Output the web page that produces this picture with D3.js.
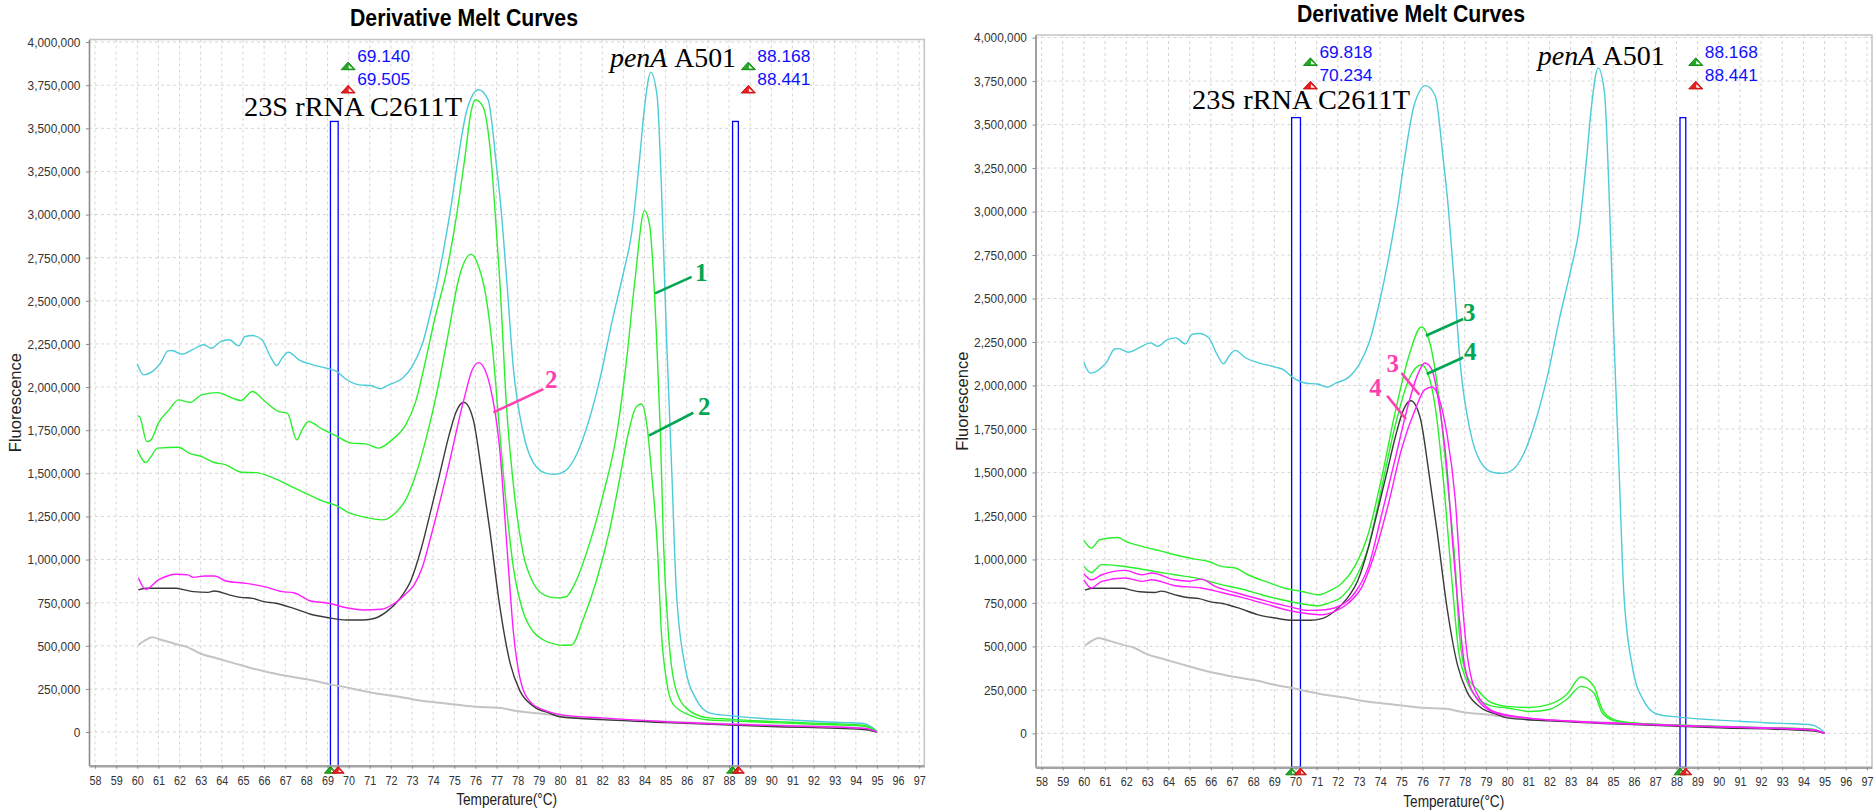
<!DOCTYPE html>
<html>
<head>
<meta charset="utf-8">
<script src="https://cdn.jsdelivr.net/npm/d3@7"></script>
<style>
  body { margin: 0; background: #fff; }
  svg { display: block; }
</style>
</head>
<body>
<script>
var tempTicks = d3.range(58, 98);
var fluorTicks = d3.range(0, 4000001, 250000);

// shared traces (same wells in both runs)
var cyanTrace = [[60.0,2134000],[60.3,2071000],[60.9,2110000],[61.1,2139000],[61.45,2210000],[61.65,2212000],[62.1,2191000],[62.6,2216000],[63.15,2245000],[63.5,2225000],[63.95,2264000],[64.35,2274000],[64.8,2239000],[65.1,2293000],[65.45,2299000],[65.9,2274000],[66.3,2177000],[66.6,2125000],[66.85,2168000],[67.15,2202000],[67.65,2158000],[68.3,2129000],[69.05,2106000],[69.45,2090000],[69.85,2048000],[70.5,2013000],[71.05,2009000],[71.5,1990000],[71.9,2013000],[72.55,2051000],[73.0,2119000],[73.5,2254000],[73.95,2470000],[74.2,2610000],[74.5,2800000],[74.85,3050000],[75.15,3300000],[75.6,3608000],[76.15,3724000],[76.6,3666000],[77.0,3279000],[77.15,3114000],[77.48,2622000],[77.8,2104000],[78.25,1741000],[78.75,1560000],[79.35,1500000],[79.8,1495000],[80.25,1514000],[80.8,1612000],[81.4,1819000],[81.9,2052000],[82.5,2400000],[83.0,2660000],[83.4,2900000],[83.75,3300000],[84.0,3620000],[84.3,3826000],[84.6,3683000],[84.8,3165000],[85.05,2259000],[85.3,1483000],[85.5,835000],[85.9,394000],[86.45,188000],[87.1,110000],[88.0,95000],[89.6,79000],[91.0,70000],[92.4,60000],[93.5,55000],[94.35,50000],[94.6,40000],[94.9,15000],[95.0,0]];
var grayTrace = [[60.05,505000],[60.4,534000],[60.7,549000],[61.15,534000],[61.85,509000],[62.4,491000],[62.95,457000],[63.75,428000],[64.6,398000],[65.45,369000],[66.3,344000],[67.1,325000],[68.2,302000],[69.05,278000],[69.9,259000],[70.7,238000],[71.55,219000],[72.4,205000],[73.2,186000],[74.6,166000],[76.0,147000],[77.1,141000],[77.95,122000],[79.05,108000],[80.7,85000],[84.05,66000],[88.2,46000],[92.4,31000],[94.3,21000],[95.0,0]];
var blackTrace = [[60.05,824000],[60.4,834000],[61.85,834000],[62.1,828000],[62.65,814000],[63.35,810000],[63.65,818000],[64.35,795000],[64.9,781000],[65.45,775000],[66.0,756000],[66.55,747000],[67.4,717000],[68.2,683000],[69.05,663000],[69.9,650000],[70.7,650000],[71.25,660000],[71.8,698000],[72.4,770000],[72.95,880000],[73.45,1070000],[73.9,1290000],[74.3,1490000],[74.75,1720000],[75.1,1860000],[75.45,1912000],[75.9,1810000],[76.3,1501000],[76.7,1153000],[77.15,731000],[77.65,395000],[78.1,240000],[78.75,149000],[79.5,110000],[80.0,89000],[82.0,72000],[85.0,55000],[90.0,32000],[94.3,15000],[94.6,12000],[94.9,3000],[95.0,0]];

// left run
var green1Trace = [[60.0,1833000],[60.1,1830000],[60.45,1684000],[60.65,1694000],[61.0,1791000],[61.5,1868000],[61.95,1926000],[62.5,1912000],[63.05,1955000],[63.8,1968000],[64.5,1936000],[64.9,1922000],[65.45,1974000],[66.05,1916000],[66.7,1858000],[67.1,1849000],[67.55,1694000],[67.8,1752000],[68.1,1800000],[68.75,1756000],[69.4,1717000],[70.15,1675000],[70.8,1671000],[71.4,1646000],[72.05,1694000],[72.7,1781000],[73.15,1907000],[73.65,2158000],[74.1,2409000],[74.6,2650000],[75.05,2950000],[75.5,3330000],[75.8,3600000],[76.0,3666000],[76.35,3627000],[76.7,3376000],[77.0,2893000],[77.16,2600000],[77.48,1871000],[77.8,1430000],[78.25,1042000],[78.75,861000],[79.35,789000],[79.8,778000],[80.25,783000],[80.8,887000],[81.4,1094000],[82.05,1379000],[82.7,1741000],[83.15,2155000],[83.55,2622000],[84.0,3023000],[84.25,2933000],[84.4,2700000],[84.58,2259000],[84.75,1741000],[84.9,1094000],[85.13,576000],[85.45,265000],[86.0,136000],[86.95,84000],[88.0,75000],[90.0,62000],[92.0,52000],[94.3,40000],[94.6,32000],[94.9,10000],[95.0,0]];
var green2Trace = [[60.0,1636000],[60.4,1562000],[60.65,1597000],[60.95,1646000],[61.95,1651000],[62.45,1617000],[63.05,1597000],[63.6,1564000],[64.2,1549000],[64.95,1506000],[65.6,1504000],[66.4,1475000],[67.2,1429000],[67.8,1394000],[68.75,1340000],[69.45,1311000],[70.0,1272000],[70.65,1249000],[71.6,1230000],[72.2,1269000],[72.7,1346000],[73.15,1481000],[73.65,1694000],[74.3,2042000],[74.75,2332000],[75.2,2622000],[75.8,2771000],[76.15,2699000],[76.5,2525000],[76.8,2235000],[77.1,1810000],[77.45,1327000],[77.8,950000],[78.25,700000],[78.75,580000],[79.2,535000],[79.8,508000],[80.15,503000],[80.55,505000],[81.1,654000],[81.75,887000],[82.35,1172000],[82.85,1483000],[83.25,1741000],[83.6,1884000],[83.85,1902000],[84.1,1793000],[84.35,1483000],[84.6,1094000],[84.8,576000],[85.05,291000],[85.35,162000],[86.15,97000],[86.95,71000],[88.0,65000],[90.0,55000],[92.0,45000],[94.3,35000],[94.6,28000],[94.9,8000],[95.0,0]];
var pinkTrace = [[60.05,895000],[60.4,828000],[61.0,882000],[61.85,915000],[62.4,911000],[62.65,897000],[63.2,905000],[63.65,905000],[64.2,876000],[65.15,862000],[66.0,843000],[66.85,814000],[67.4,808000],[68.2,760000],[69.05,747000],[69.9,721000],[70.7,708000],[71.55,712000],[72.1,741000],[72.65,795000],[73.1,853000],[73.5,960000],[73.85,1114000],[74.65,1501000],[75.45,1926000],[75.85,2100000],[76.15,2142000],[76.45,2100000],[76.7,2003000],[77.15,1640000],[77.5,1060000],[77.8,576000],[78.1,317000],[78.6,175000],[79.35,123000],[80.25,97000],[82.0,82000],[85.0,60000],[88.0,45000],[91.0,35000],[94.3,22000],[94.6,18000],[94.9,5000],[95.0,0]];

// right run
var green3Trace = [[60.0,1109000],[60.35,1065000],[60.75,1113000],[61.6,1126000],[62.0,1103000],[62.75,1075000],[63.7,1046000],[64.3,1027000],[65.25,1002000],[65.9,988000],[66.5,960000],[67.15,951000],[67.75,912000],[68.7,868000],[69.65,830000],[70.3,816000],[71.1,797000],[71.55,816000],[72.2,864000],[72.8,960000],[73.45,1152000],[74.05,1458000],[74.7,1841000],[75.35,2167000],[75.95,2336000],[76.35,2244000],[76.75,1956000],[77.2,1420000],[77.55,960000],[77.75,560000],[78.1,330000],[78.6,251000],[79.15,184000],[80.0,155000],[81.1,149000],[81.95,165000],[82.8,222000],[83.5,324000],[84.1,270000],[84.5,136000],[85.05,79000],[86.0,60000],[88.0,48000],[90.0,40000],[92.0,33000],[94.3,25000],[94.6,20000],[94.9,5000],[95.0,0]];
var green4Trace = [[60.0,960000],[60.35,925000],[60.85,970000],[61.6,964000],[62.4,951000],[63.35,931000],[64.3,912000],[65.55,887000],[66.5,855000],[67.45,830000],[68.4,797000],[69.35,768000],[70.3,745000],[71.1,734000],[71.55,749000],[72.2,787000],[72.8,883000],[73.45,1075000],[74.05,1401000],[74.7,1764000],[75.35,2033000],[75.95,2119000],[76.25,2071000],[76.6,1879000],[77.0,1439000],[77.4,864000],[77.7,480000],[78.1,300000],[78.6,200000],[79.2,160000],[80.0,146000],[81.1,126000],[81.95,136000],[82.8,194000],[83.5,270000],[84.1,232000],[84.5,117000],[85.05,73000],[86.0,58000],[88.0,46000],[90.0,38000],[92.0,31000],[94.3,23000],[94.6,18000],[94.9,5000],[95.0,0]];
var pink3Trace = [[60.0,918000],[60.35,883000],[60.85,912000],[61.95,937000],[62.75,912000],[63.2,922000],[64.3,883000],[65.0,875000],[65.55,887000],[66.2,845000],[67.15,810000],[68.4,768000],[69.65,730000],[70.6,707000],[71.4,711000],[72.2,740000],[72.8,807000],[73.45,960000],[74.05,1247000],[74.7,1573000],[75.35,1899000],[75.8,2071000],[76.1,2129000],[76.45,2090000],[76.75,1918000],[77.15,1534000],[77.45,1056000],[77.75,650000],[78.0,385000],[78.6,194000],[79.45,117000],[80.9,89000],[83.0,70000],[86.0,55000],[89.0,42000],[92.0,32000],[94.3,22000],[94.6,18000],[94.9,5000],[95.0,0]];
var pink4Trace = [[60.0,883000],[60.35,836000],[60.85,874000],[61.95,893000],[62.75,874000],[63.2,883000],[64.3,849000],[65.55,836000],[66.5,810000],[67.45,782000],[68.7,740000],[69.65,707000],[70.6,688000],[71.25,682000],[71.85,701000],[72.5,749000],[73.15,845000],[73.75,1037000],[74.4,1324000],[75.0,1630000],[75.65,1860000],[76.1,1975000],[76.45,1991000],[76.75,1937000],[77.15,1726000],[77.55,1343000],[77.85,800000],[78.15,420000],[78.7,200000],[79.5,120000],[81.0,88000],[83.0,70000],[86.0,53000],[89.0,41000],[92.0,31000],[94.3,21000],[94.6,17000],[94.9,5000],[95.0,0]];

var leftMarkers = [[69.140, 69.505], [88.168, 88.441]];
var rightMarkers = [[69.818, 70.234], [88.168, 88.441]];

var GREEN = '#2bef2b';
var PINK = '#ff1dff';
var CYAN = '#4ccbd8';
var NOTE_GREEN = '#00a651';
var NOTE_PINK = '#ff3fb0';

var svg = d3.select('body').append('svg')
  .attr('width', 1876)
  .attr('height', 812);

function squeeze(sel, k) {
  sel.each(function() {
    var t = d3.select(this);
    var x = +t.attr('x') || 0;
    var y = +t.attr('y') || 0;
    t.attr('transform', 'translate(' + x + ',' + y + ') scale(' + k + ',1)')
      .attr('x', 0).attr('y', 0);
  });
}

function triangle(g, cx, baseY, w, h, color, edge) {
  g.append('path')
    .attr('d', 'M' + (cx - w / 2) + ',' + baseY + 'L' + cx + ',' + (baseY - h) + 'L' + (cx + w / 2) + ',' + baseY + 'Z')
    .attr('fill', color).attr('stroke', edge).attr('stroke-width', 1);
  g.append('path')
    .attr('d', 'M' + (cx + 0.5) + ',' + (baseY - 1.2) + 'L' + (cx + 0.5) + ',' + (baseY - h + 3) + 'L' + (cx + w / 2 - 2.5) + ',' + (baseY - 1.2) + 'Z')
    .attr('fill', '#fff');
}

function drawPanel(o) {
  var bottom = o.top + o.height;
  var x = d3.scaleLinear().domain([57.715, 97.24]).range([o.left, o.left + o.width]);
  var y = d3.scaleLinear().domain([-195000, 4015000]).range([bottom, o.top]);
  var g = svg.append('g');

  g.append('text')
    .attr('x', o.titleX).attr('y', o.titleY)
    .attr('text-anchor', 'middle')
    .attr('font-family', 'Liberation Sans, Arial, sans-serif')
    .attr('font-weight', 'bold').attr('font-size', 23)
    .attr('textLength', 228).attr('lengthAdjust', 'spacingAndGlyphs')
    .text('Derivative Melt Curves');

  g.append('rect')
    .attr('x', o.left).attr('y', o.top)
    .attr('width', o.width).attr('height', o.height)
    .attr('fill', '#fff');

  g.append('g').selectAll('line').data(tempTicks).enter().append('line')
    .attr('x1', x).attr('x2', x)
    .attr('y1', o.top).attr('y2', bottom)
    .attr('stroke', '#d6d6d6').attr('stroke-dasharray', '3,3');

  g.append('g').selectAll('line').data(fluorTicks).enter().append('line')
    .attr('x1', o.left).attr('x2', o.left + o.width)
    .attr('y1', y).attr('y2', y)
    .attr('stroke', '#d6d6d6').attr('stroke-dasharray', '3,3');

  g.append('path')
    .attr('d', 'M' + o.left + ',' + o.top + 'H' + (o.left + o.width) + 'V' + bottom)
    .attr('fill', 'none').attr('stroke', '#c4c4c4').attr('stroke-width', 1.5);

  // marker bands
  o.markers.forEach(function(m) {
    g.append('rect')
      .attr('x', x(m[0])).attr('y', y(3540000))
      .attr('width', x(m[1]) - x(m[0]))
      .attr('height', bottom - y(3540000))
      .attr('fill', '#fff')
      .attr('stroke', '#0000ff').attr('stroke-width', 1.3);
  });

  var line = d3.line()
    .x(function(d) { return x(d[0]); })
    .y(function(d) { return y(d[1]); })
    .curve(d3.curveMonotoneX);

  g.append('g').selectAll('path').data(o.curves).enter().append('path')
    .attr('d', function(d) { return line(d.values); })
    .attr('fill', 'none')
    .attr('stroke', function(d) { return d.color; })
    .attr('stroke-width', function(d) { return d.width || 1.4; })
    .attr('stroke-linejoin', 'round');

  var yAxis = d3.axisLeft(y)
    .tickValues(fluorTicks)
    .tickFormat(d3.format(','))
    .tickSizeInner(3).tickSizeOuter(0).tickPadding(5.6);
  var ya = g.append('g')
    .attr('transform', 'translate(' + o.left + ',0)')
    .call(yAxis);
  ya.select('.domain').attr('stroke', '#8a8a8a').attr('stroke-width', 1.6);
  ya.selectAll('.tick line').attr('stroke', '#8a8a8a');
  ya.selectAll('.tick text')
    .attr('font-family', 'Liberation Sans, Arial, sans-serif')
    .attr('font-size', 13.5).attr('fill', '#333')
    .call(squeeze, 0.88);

  var xAxis = d3.axisBottom(x)
    .tickValues(tempTicks)
    .tickSizeInner(3).tickSizeOuter(0).tickPadding(6.4);
  var xa = g.append('g')
    .attr('transform', 'translate(0,' + bottom + ')')
    .call(xAxis);
  xa.select('.domain').attr('stroke', '#a4a4a4').attr('stroke-width', 2.4);
  xa.selectAll('.tick line').attr('stroke', '#8a8a8a');
  xa.selectAll('.tick text')
    .attr('font-family', 'Liberation Sans, Arial, sans-serif')
    .attr('font-size', 13.5).attr('fill', '#333')
    .call(squeeze, 0.8);

  g.append('text')
    .attr('x', o.left + o.width / 2).attr('y', bottom + 39.5)
    .attr('text-anchor', 'middle')
    .attr('font-family', 'Liberation Sans, Arial, sans-serif')
    .attr('font-size', 16).attr('fill', '#222')
    .attr('textLength', 101).attr('lengthAdjust', 'spacingAndGlyphs')
    .text('Temperature(\u00b0C)');

  g.append('text')
    .attr('transform', 'translate(' + (o.left - 68) + ',' + (o.top + o.height / 2) + ') rotate(-90)')
    .attr('text-anchor', 'middle')
    .attr('font-family', 'Liberation Sans, Arial, sans-serif')
    .attr('font-size', 16.5).attr('fill', '#222')
    .text('Fluorescence');

  // marker flags
  var fmt = d3.format('.3f');
  o.markers.forEach(function(m) {
    var cx = x(m[1]) + 10;
    var gb = y(3840000);
    var rb = y(3705000);
    triangle(g, cx, gb, 14, 7.6, '#22a822', '#138a13');
    triangle(g, cx, rb, 14, 7.6, '#e82020', '#c41010');
    [[m[0], gb], [m[1], rb]].forEach(function(p) {
      g.append('text')
        .attr('x', cx + 9).attr('y', p[1] - 7.6)
        .attr('font-family', 'Liberation Sans, Arial, sans-serif')
        .attr('font-size', 16).attr('fill', '#1010ff')
        .attr('textLength', 53).attr('lengthAdjust', 'spacingAndGlyphs')
        .text(fmt(p[0]));
    });
    triangle(g, x(m[0]), bottom + 7.5, 12, 6.8, '#22a822', '#138a13');
    triangle(g, x(m[1]), bottom + 7.5, 12, 6.8, '#e82020', '#c41010');
  });

  // gene labels
  o.genes.forEach(function(gl) {
    var t = g.append('text')
      .attr('x', x(gl.t)).attr('y', y(gl.v))
      .attr('font-family', 'Liberation Serif, Times New Roman, serif')
      .attr('font-size', 28).attr('fill', '#000')
      .attr('textLength', gl.len).attr('lengthAdjust', 'spacingAndGlyphs');
    gl.parts.forEach(function(p) {
      t.append('tspan').attr('font-style', p[1]).text(p[0]);
    });
  });

  // numbered call-outs
  o.notes.forEach(function(n) {
    g.append('line')
      .attr('x1', x(n.from[0])).attr('y1', y(n.from[1]))
      .attr('x2', x(n.to[0])).attr('y2', y(n.to[1]))
      .attr('stroke', n.color).attr('stroke-width', 2.6);
    g.append('text')
      .attr('x', x(n.at[0])).attr('y', y(n.at[1]))
      .attr('text-anchor', n.anchor)
      .attr('font-family', 'Liberation Serif, Times New Roman, serif')
      .attr('font-weight', 'bold').attr('font-size', 25)
      .attr('fill', n.color)
      .text(n.text);
  });
}

drawPanel({
  left: 89, top: 39.5, width: 835.3, height: 726.2,
  titleX: 464, titleY: 25.5,
  markers: leftMarkers,
  curves: [
    {values: grayTrace, color: '#c4c4c4', width: 2},
    {values: cyanTrace, color: CYAN},
    {values: green1Trace, color: GREEN},
    {values: green2Trace, color: GREEN},
    {values: blackTrace, color: '#3a3a3a'},
    {values: pinkTrace, color: PINK}
  ],
  genes: [
    {t: 65.05, v: 3573000, len: 218, parts: [['23S rRNA C2611T', 'normal']]},
    {t: 82.37, v: 3857000, len: 126, parts: [['penA', 'italic'], ['\u00a0A501', 'normal']]}
  ],
  notes: [
    {text: '1', color: NOTE_GREEN, from: [84.50, 2543000], to: [86.23, 2639000], at: [86.39, 2616000], anchor: 'start'},
    {text: '2', color: NOTE_PINK, from: [76.85, 1853000], to: [79.21, 1988000], at: [79.29, 1996000], anchor: 'start'},
    {text: '2', color: NOTE_GREEN, from: [84.21, 1718000], to: [86.31, 1851000], at: [86.53, 1838000], anchor: 'start'}
  ]
});

drawPanel({
  left: 1035.5, top: 35, width: 836.5, height: 732.3,
  titleX: 1411, titleY: 21.7,
  markers: rightMarkers,
  curves: [
    {values: grayTrace, color: '#c4c4c4', width: 2},
    {values: cyanTrace, color: CYAN},
    {values: green3Trace, color: GREEN},
    {values: green4Trace, color: GREEN},
    {values: blackTrace, color: '#3a3a3a'},
    {values: pink3Trace, color: PINK},
    {values: pink4Trace, color: PINK}
  ],
  genes: [
    {t: 65.11, v: 3590000, len: 218, parts: [['23S rRNA C2611T', 'normal']]},
    {t: 81.45, v: 3843000, len: 127, parts: [['penA', 'italic'], ['\u00a0A501', 'normal']]}
  ],
  notes: [
    {text: '3', color: NOTE_GREEN, from: [76.16, 2286000], to: [77.92, 2382000], at: [77.91, 2368000], anchor: 'start'},
    {text: '4', color: NOTE_GREEN, from: [76.20, 2066000], to: [77.92, 2161000], at: [77.96, 2144000], anchor: 'start'},
    {text: '3', color: NOTE_PINK, from: [75.01, 2071000], to: [75.85, 1947000], at: [74.89, 2080000], anchor: 'end'},
    {text: '4', color: NOTE_PINK, from: [74.33, 1941000], to: [75.22, 1807000], at: [74.08, 1941000], anchor: 'end'}
  ]
});
</script>
</body>
</html>
